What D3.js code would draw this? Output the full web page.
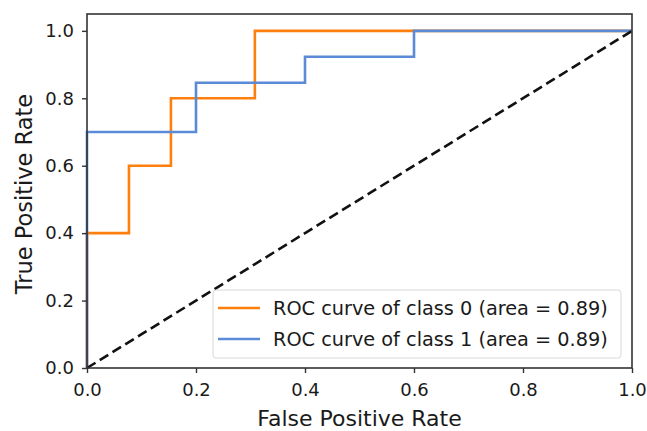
<!DOCTYPE html>
<html><head><meta charset="utf-8">
<script src="https://cdn.jsdelivr.net/npm/d3@7"></script>
<style>body{margin:0;background:#fff}svg{display:block}text{font-family:"DejaVu Sans",sans-serif;fill:#1a1a1a}</style>
</head><body><svg id="c" width="647" height="431"></svg>
<script>
const class0FPR = [0, 0, 0.077, 0.077, 0.154, 0.154, 0.308, 0.308, 1.0];
const class0TPR = [0, 0.4, 0.4, 0.6, 0.6, 0.8, 0.8, 1.0, 1.0];
const class1FPR = [0, 0, 0.2, 0.2, 0.4, 0.4, 0.6, 0.6, 1.0];
const class1TPR = [0, 0.7, 0.7, 0.846, 0.846, 0.923, 0.923, 1.0, 1.0];
const diagX = [0, 1];
const diagY = [0, 1];
const seriesNames = ["ROC curve of class 0 (area = 0.89)", "ROC curve of class 1 (area = 0.89)"];
const seriesColors = ["#ff7f0e", "#5b8ad6"];
const tickValues = [0, 0.2, 0.4, 0.6, 0.8, 1.0];

const svg = d3.select("#c");
const L = 87, R = 632, T = 14, B = 368;
const x = d3.scaleLinear().domain([0, 1]).range([L, R]);
const y = d3.scaleLinear().domain([0, 1.05]).range([B, T]);

const line = d3.line().x(d => x(d[0])).y(d => y(d[1]));
const zip = (a, b) => a.map((v, i) => [v, b[i]]);

const plot = svg.append("g");
plot.append("path").datum(zip(class0FPR, class0TPR)).attr("d", line)
  .attr("fill", "none").attr("stroke", seriesColors[0]).attr("stroke-width", 2.6);
plot.append("path").datum(zip(class1FPR, class1TPR)).attr("d", line)
  .attr("fill", "none").attr("stroke", seriesColors[1]).attr("stroke-width", 2.6);
plot.append("path").datum(zip(diagX, diagY)).attr("d", line)
  .attr("fill", "none").attr("stroke", "#111").attr("stroke-width", 2.6)
  .attr("stroke-dasharray", "10,5");

// frame
svg.append("rect").attr("x", L).attr("y", T).attr("width", R - L).attr("height", B - T)
  .attr("fill", "none").attr("stroke", "#333").attr("stroke-width", 1.6);

const fmt = d3.format(".1f");
const xa = svg.append("g").attr("transform", `translate(0,${B})`)
  .call(d3.axisBottom(x).tickValues(tickValues).tickFormat(fmt).tickSize(5).tickPadding(10));
const ya = svg.append("g").attr("transform", `translate(${L},0)`)
  .call(d3.axisLeft(y).tickValues(tickValues).tickFormat(fmt).tickSize(5).tickPadding(8));
[xa, ya].forEach(a => {
  a.select(".domain").remove();
  a.selectAll("line").attr("stroke", "#333").attr("stroke-width", 1.4);
  a.selectAll("text").style("font-size", "18px").style("font-family", "DejaVu Sans").attr("fill", "#1a1a1a");
});

svg.append("text").attr("x", (L + R) / 2).attr("y", 425.5).attr("text-anchor", "middle")
  .style("font-size", "22px").text("False Positive Rate");
svg.append("text").attr("transform", `translate(32,${(T + B) / 2 + 3}) rotate(-90)`).attr("text-anchor", "middle")
  .style("font-size", "22.5px").text("True Positive Rate");

// legend
const lg = svg.append("g");
lg.append("rect").attr("x", 213).attr("y", 290).attr("width", 408).attr("height", 68).attr("rx", 3)
  .attr("fill", "rgba(255,255,255,0.85)").attr("stroke", "#d8d8d8").attr("stroke-width", 1);
seriesNames.forEach((n, i) => {
  const yy = 308 + i * 31;
  lg.append("line").attr("x1", 218).attr("x2", 260).attr("y1", yy).attr("y2", yy)
    .attr("stroke", seriesColors[i]).attr("stroke-width", 2.6);
  lg.append("text").attr("x", 273).attr("y", yy + 6.5).style("font-size", "19.3px").text(n);
});
</script></body></html>
